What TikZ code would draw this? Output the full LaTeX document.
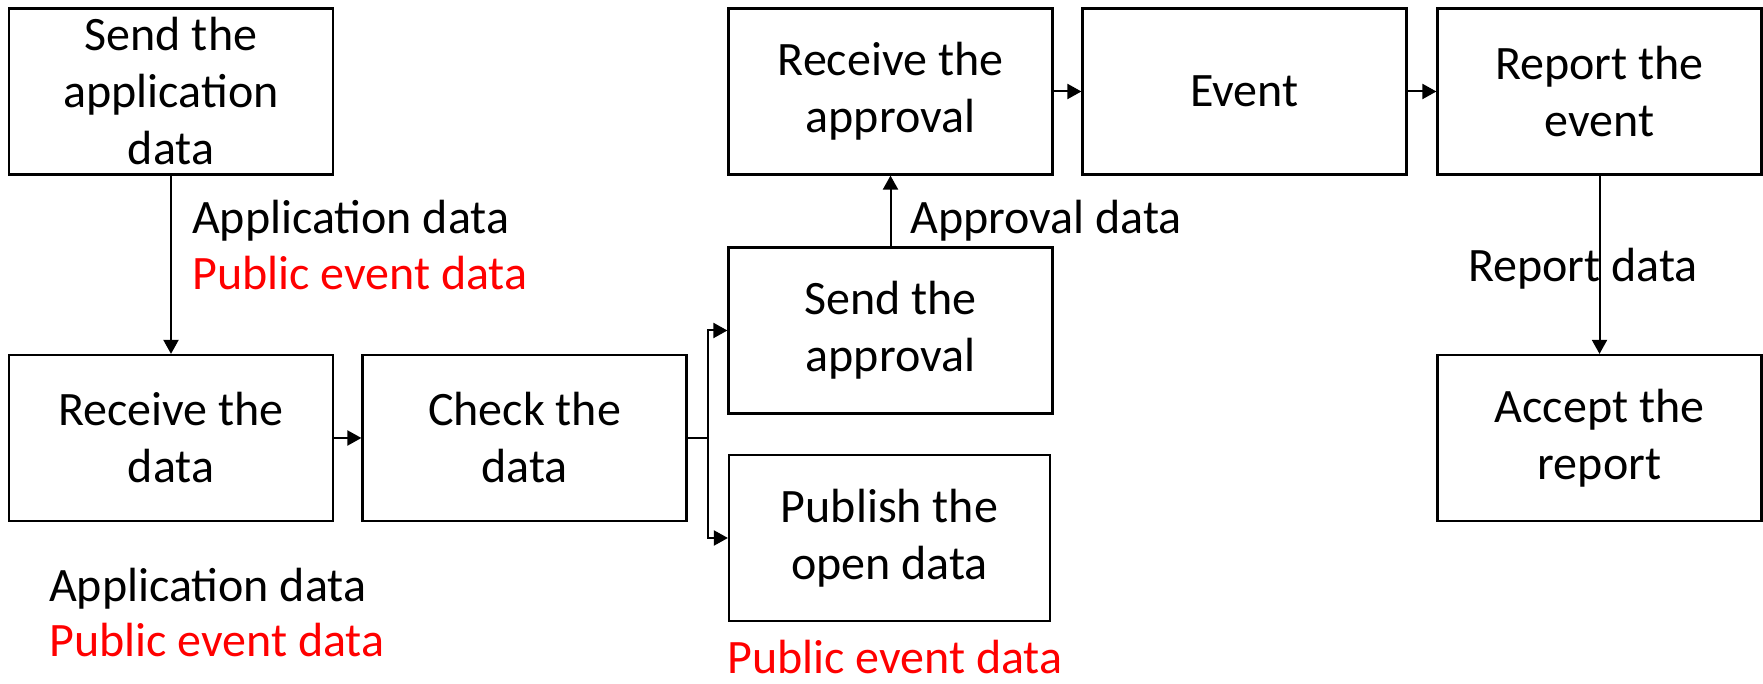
\documentclass[tikz,border=0pt]{standalone}
\usepackage{fontspec}
\setmainfont{Carlito}
\usetikzlibrary{arrows.meta}
\begin{document}
\begin{tikzpicture}[x=1pt,y=1pt,
  box/.style={draw=black,line width=2.2pt,minimum width=324pt,minimum height=166pt,inner sep=0pt,align=center,font=\fontsize{48}{57}\selectfont},
  lbl/.style={anchor=base west,inner sep=0pt,font=\fontsize{48}{57}\selectfont},
  redlbl/.style={lbl,text=red},
  conn/.style={line width=2pt,-{Triangle[length=14pt,width=15pt]}},
  plain/.style={line width=2pt}]
\useasboundingbox (0,0) rectangle (1763,684);
\node[box] (sa) at (171,592.5) {Send the\\application\\data};
\node[box] (rd) at (171,246) {Receive the\\data};
\node[box] (cd) at (524.5,246) {Check the\\data};
\node[box] (sap) at (890.5,353.5) {Send the\\approval};
\node[box,minimum width=321pt] (pub) at (889.5,146) {Publish the\\open data};
\node[box] (ra) at (890.5,592.5) {Receive the\\approval};
\node[box] (ev) at (1244.5,592.5) {Event};
\node[box] (re) at (1599.5,592.5) {Report the\\event};
\node[box] (ac) at (1599.5,246) {Accept the\\report};
\coordinate (br) at (708,246);
\draw[conn] (sa.south) -- (rd.north);
\draw[conn] (rd.east) -- (cd.west);
\draw[plain] (cd.east) -- (br);
\draw[conn] (br) |- (sap.west);
\draw[conn] (br) |- (pub.west);
\draw[conn] (sap.north) -- (ra.south);
\draw[conn] (ra.east) -- (ev.west);
\draw[conn] (ev.east) -- (re.west);
\draw[conn] (re.south) -- (ac.north);
\node[lbl] (l1) at (192,450) {Application data};
\node[redlbl] (l2) at (192,394) {Public event data};
\node[lbl] (l3) at (49,82) {Application data};
\node[redlbl] (l4) at (49,27) {Public event data};
\node[redlbl] (l5) at (727,10) {Public event data};
\node[lbl] (l6) at (910,450) {Approval data};
\node[lbl] (l7) at (1468,402) {Report data};
\end{tikzpicture}
\end{document}
